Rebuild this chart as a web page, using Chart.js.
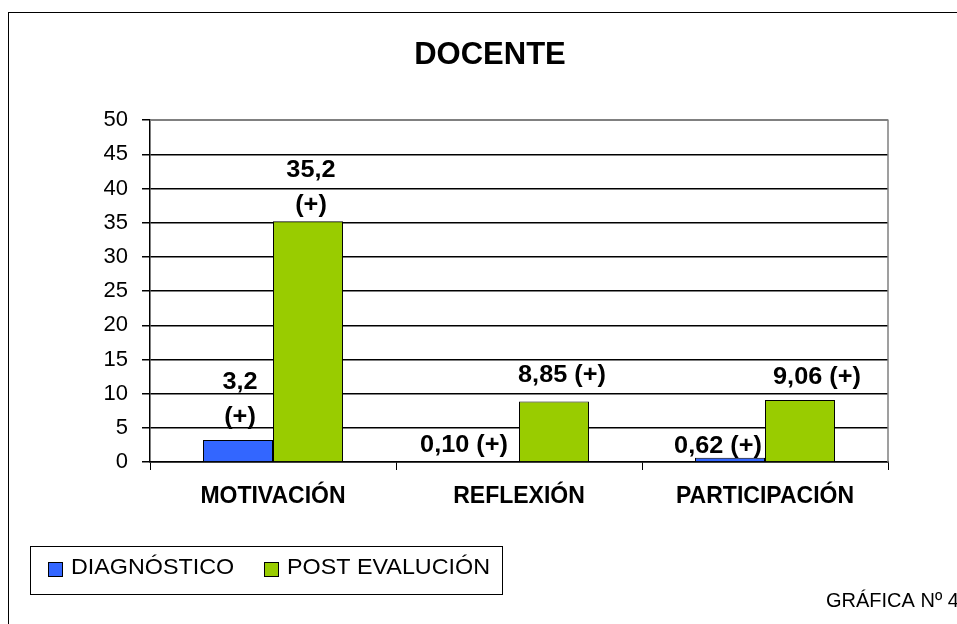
<!DOCTYPE html>
<html><head><meta charset="utf-8">
<script src="https://cdn.jsdelivr.net/npm/chart.js@4/dist/chart.umd.min.js"></script>
<style>html,body{margin:0;padding:0;background:#fff}#wrap{width:957px;height:624px;position:relative;overflow:hidden}</style>
</head><body><div id="wrap"><canvas id="c" width="957" height="624"></canvas></div>
<script>
const categories = ['MOTIVACIÓN', 'REFLEXIÓN', 'PARTICIPACIÓN'];
const seriesNames = ['DIAGNÓSTICO', 'POST EVALUCIÓN'];
const diagnostico = [3.2, 0.10, 0.62];
const postEvaluacion = [35.2, 8.85, 9.06];
const diagnosticoLabels = [['3,2', '(+)'], ['0,10 (+)'], ['0,62 (+)']];
const postLabels = [['35,2', '(+)'], ['8,85 (+)'], ['9,06 (+)']];
const yTicks = [0, 5, 10, 15, 20, 25, 30, 35, 40, 45, 50];
const chartTitle = 'DOCENTE';
const footnote = 'GRÁFICA Nº 4';

const FONT = "'Liberation Sans', Arial, sans-serif";
Chart.defaults.font.family = FONT;
Chart.defaults.color = '#000';

// label placement tweaks (style only)
const labelOffsets = [
  [{dx: 2, dy: -22}, {dx: -20, dy: -16}, {dx: -12, dy: -11}],
  [{dx: 3, dy: -16}, {dx: 8, dy: -26}, {dx: 17, dy: -22}]
];
const allLabels = [diagnosticoLabels, postLabels];

function stretchText(ctx, t, x, y, sx) {
  ctx.save();
  ctx.translate(x, y);
  ctx.scale(sx, 1);
  ctx.fillText(t, 0, 0);
  ctx.restore();
}

const decorPlugin = {
  id: 'decor',
  beforeDatasetsDraw(chart) {
    const {ctx, chartArea: a} = chart;
    ctx.save();
    ctx.strokeStyle = '#808080';
    ctx.lineWidth = 1.5;
    ctx.beginPath();
    ctx.moveTo(a.left, a.top);
    ctx.lineTo(a.right, a.top);
    ctx.lineTo(a.right, a.bottom);
    ctx.stroke();
    ctx.restore();
  },
  afterDatasetsDraw(chart) {
    const {ctx} = chart;
    ctx.save();
    ctx.font = 'bold 23px ' + FONT;
    ctx.fillStyle = '#000';
    ctx.textAlign = 'center';
    ctx.textBaseline = 'middle';
    chart.data.datasets.forEach((ds, i) => {
      const meta = chart.getDatasetMeta(i);
      meta.data.forEach((bar, j) => {
        const lines = allLabels[i][j];
        const off = labelOffsets[i][j];
        const n = lines.length;
        lines.forEach((t, k) => {
          stretchText(ctx, t, bar.x + off.dx, bar.y + off.dy - (n - 1 - k) * 35, 1.1);
        });
      });
    });
    ctx.restore();
  },
  afterDraw(chart) {
    const {ctx} = chart;
    ctx.save();
    // outer frame
    ctx.strokeStyle = '#000';
    ctx.lineWidth = 1;
    ctx.strokeRect(8.5, 12.5, 1000, 1000);
    // legend
    ctx.strokeRect(30.5, 546.5, 472, 48);
    const itemX = [48, 264];
    ctx.font = '22px ' + FONT;
    ctx.textBaseline = 'middle';
    ctx.textAlign = 'left';
    chart.data.datasets.forEach((ds, i) => {
      ctx.fillStyle = ds.backgroundColor;
      ctx.fillRect(itemX[i], 562, 15, 15);
      ctx.strokeStyle = '#000';
      ctx.strokeRect(itemX[i] + 0.5, 562.5, 14, 14);
      ctx.fillStyle = '#000';
      stretchText(ctx, ds.label, itemX[i] + 23, 568, 1.06);
    });
    // footnote
    ctx.font = '20px ' + FONT;
    ctx.fillText(footnote, 826, 601);
    ctx.restore();
  }
};

new Chart(document.getElementById('c'), {
  type: 'bar',
  data: {
    labels: categories,
    datasets: [
      {label: seriesNames[0], data: diagnostico, backgroundColor: '#3366FF', borderColor: '#000', borderWidth: 1},
      {label: seriesNames[1], data: postEvaluacion, backgroundColor: '#99CC00', borderColor: '#000', borderWidth: 1}
    ]
  },
  options: {
    responsive: false,
    animation: false,
    devicePixelRatio: 1,
    layout: {padding: {left: 92, right: 69, top: 0, bottom: 102}},
    datasets: {bar: {categoryPercentage: 0.569, barPercentage: 1}},
    plugins: {
      legend: {display: false},
      tooltip: {enabled: false},
      title: {
        display: true, text: chartTitle, color: '#000',
        font: {size: 31, weight: 'bold', family: FONT},
        padding: {top: 37, bottom: 46}
      }
    },
    scales: {
      x: {
        afterFit(s) { s.height = 60; },
        grid: {display: true, drawOnChartArea: false, drawTicks: true, tickLength: 8, color: '#000', offset: true},
        border: {display: true, color: '#000', width: 1.5},
        ticks: {padding: 13, maxRotation: 0, autoSkip: false, color: '#000', font: {size: 23, weight: 'bold', family: FONT}}
      },
      y: {
        min: 0, max: 50,
        afterFit(s) { s.width = 58; },
        afterBuildTicks(s) { s.ticks = yTicks.map(v => ({value: v})); },
        grid: {
          color: c => (c.tick && c.tick.value === 50) ? '#808080' : '#000',
          lineWidth: 1.5, tickLength: 8, tickColor: '#000', drawTicks: true
        },
        border: {display: true, color: '#000', width: 1.5},
        ticks: {padding: 14, color: '#000', font: {size: 22, family: FONT}}
      }
    }
  },
  plugins: [decorPlugin]
});
</script>
</body></html>
